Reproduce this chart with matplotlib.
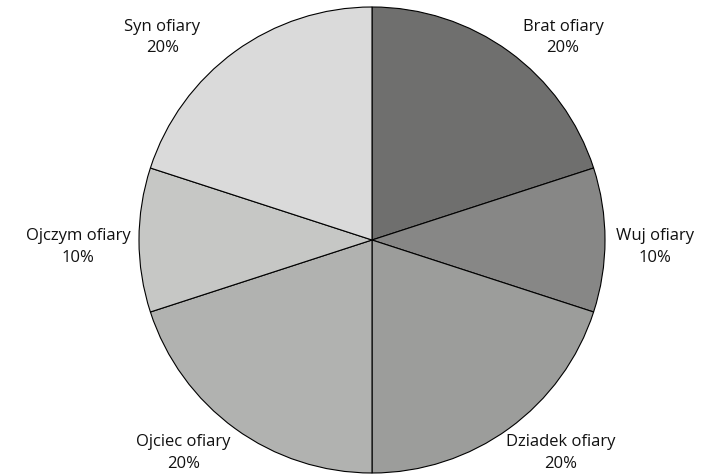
import numpy as np
import matplotlib
matplotlib.use('Agg')
import matplotlib.pyplot as plt

plt.rcParams['font.family'] = ['Open Sans', 'DejaVu Sans']

labels = ['Brat ofiary', 'Wuj ofiary', 'Dziadek ofiary', 'Ojciec ofiary', 'Ojczym ofiary', 'Syn ofiary']
shares = [20, 10, 20, 20, 10, 20]
colors = ['#6f6f6e', '#878786', '#9c9d9b', '#b1b2b0', '#c6c7c5', '#dadada']

# label centres in units of pie radius
label_pos = [(0.82, 0.87), (1.215, -0.03), (0.81, -0.915),
             (-0.81, -0.915), (-1.26, -0.03), (-0.90, 0.87)]

fig = plt.figure(figsize=(7.07, 4.75), dpi=100)
r_px = 233
cx, cy = 372, 240
ax = fig.add_axes([(cx - r_px) / 707, (475 - cy - r_px) / 475, 2 * r_px / 707, 2 * r_px / 475])
ax.pie(shares, colors=colors, startangle=90, counterclock=False, radius=1,
       wedgeprops=dict(edgecolor='black', linewidth=0.8))
ax.set_xlim(-1, 1)
ax.set_ylim(-1, 1)
ax.set_aspect('equal')
ax.axis('off')

for lab, val, (x, y) in zip(labels, shares, label_pos):
    ax.text(x, y, f'{lab}\n{val}%', ha='center', va='center', fontsize=12,
            color='#111111', linespacing=1.45, clip_on=False)

fig.savefig('out.png', dpi=100)
